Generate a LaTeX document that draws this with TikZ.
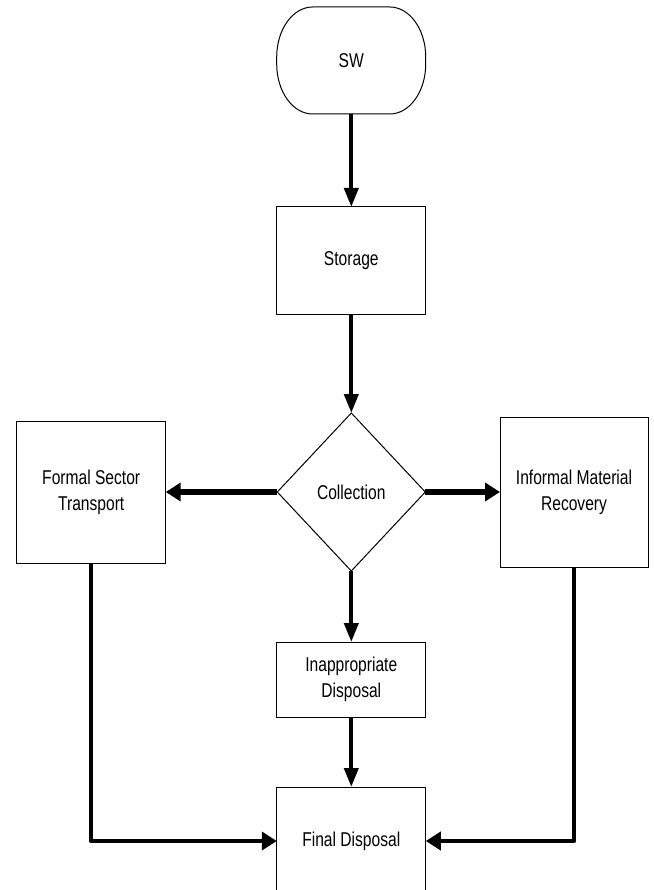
\documentclass[tikz,border=0pt]{standalone}
\usepackage{fontspec}
\setmainfont{Liberation Sans}[FakeStretch=0.78]
\usetikzlibrary{shapes.geometric,arrows.meta}
\begin{document}
\begin{tikzpicture}[x=1pt,y=-1pt,
  every node/.style={font=\fontsize{20}{26}\selectfont, align=center, inner sep=0pt, outer sep=0pt},
  procbox/.style={draw, line width=1pt, rectangle, minimum width=149pt},
  termbox/.style={rectangle, minimum width=149pt, minimum height=107pt},
  outline/.style={line width=1pt},
  decbox/.style={draw, line width=1pt, diamond, minimum width=148pt, minimum height=158pt},
  vflow/.style={line width=4pt, -{Triangle[length=19pt,width=14pt]}},
  hflow/.style={line width=5.5pt, -{Triangle[length=15pt,width=18pt]}},
  eflow/.style={line width=4.5pt, -{Triangle[length=15pt,width=18pt]}}
]
\useasboundingbox (0,0) rectangle (653,890);
\clip (0,0) rectangle (653,890);
\node[termbox] (sw) at (351.3,60.5) {SW};
\draw[outline] (312.7,7) -- (389.7,7)
  .. controls (409.6,7) and (425.7,29.4) .. (425.7,57)
  -- (425.7,64)
  .. controls (425.7,91.6) and (409.6,114) .. (389.7,114)
  -- (312.7,114)
  .. controls (292.8,114) and (276.7,91.6) .. (276.7,64)
  -- (276.7,57)
  .. controls (276.7,29.4) and (292.8,7) .. (312.7,7) -- cycle;
\node[procbox, minimum height=107pt] (storage) at (351.3,260.5) {Storage};
\node[decbox] (coll) at (351.3,492) {Collection};
\node[procbox, minimum height=142pt] (formal) at (91.2,492) {Formal Sector\\Transport};
\node[procbox, minimum width=148pt, minimum height=150pt] (informal) at (574,492) {Informal Material\\Recovery};
\node[procbox, minimum height=75pt] (inapp) at (351.3,679.5) {Inappropriate\\Disposal};
\node[procbox, minimum height=108pt] (final) at (351.3,841) {Final Disposal};
\draw[vflow] (sw.south) -- (storage.north);
\draw[vflow] (storage.south) -- (coll.north);
\draw[hflow] (coll.west) -- (formal.east);
\draw[hflow] (coll.east) -- (informal.west);
\draw[vflow] (coll.south) -- (inapp.north);
\draw[vflow] (inapp.south) -- (final.north);
\draw[eflow, line join=round] (formal.south) |- (final.west);
\draw[eflow, line join=round] (informal.south) |- (final.east);
\end{tikzpicture}
\end{document}
